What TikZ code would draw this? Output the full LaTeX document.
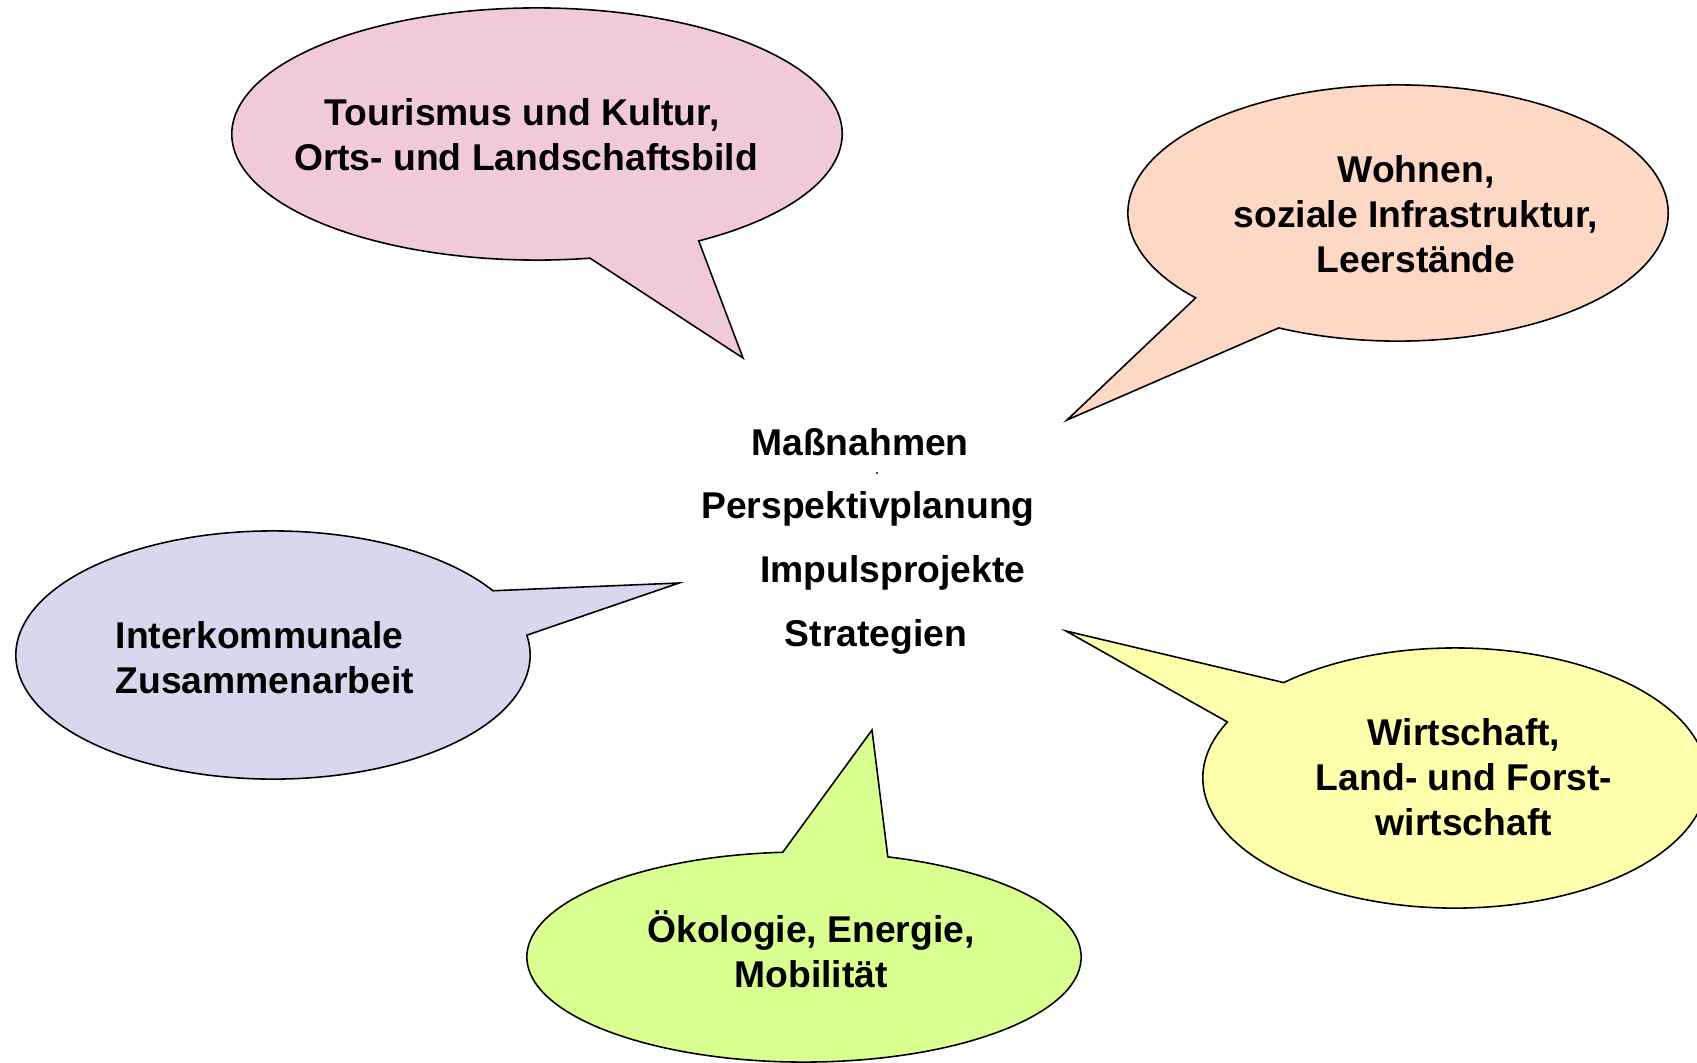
\documentclass[tikz,border=0pt]{standalone}
\usepackage{fontspec}
\setmainfont{Liberation Sans}
\usetikzlibrary{calc}

\definecolor{tourc}{RGB}{240,201,220}
\definecolor{wohnc}{RGB}{253,216,196}
\definecolor{interc}{RGB}{214,216,238}
\definecolor{wirtc}{RGB}{255,255,172}
\definecolor{oekoc}{RGB}{217,255,145}

\begin{document}
\begin{tikzpicture}[x = .01cm, y = .01cm,
	bubble/.style = {draw = black, line width = .45pt},
	txt/.style = {font = \bfseries\fontsize{10.6}{12.8}\selectfont, align = center, inner sep = 0pt}]
		\useasboundingbox (0,0) rectangle (1697,1062);
		\clip (0,0) rectangle (1697,1062);
		
		% Tourismus
		\coordinate (cT) at (537,928);
		\coordinate (tipT) at (743,704);
		\draw [bubble, fill = tourc] (tipT) -- ($(cT)+(-58:3.05cm and 1.26cm)$)
			arc [start angle = -58, end angle = 280, x radius = 3.05cm, y radius = 1.26cm] -- cycle;
		\node (tour) at (526,927) [txt] {Tourismus und Kultur,\hspace*{.08cm}\\Orts- und Landschaftsbild};
		
		% Wohnen
		\coordinate (cW) at (1398,849);
		\coordinate (tipW) at (1067,642);
		\draw [bubble, fill = wohnc] (tipW) -- ($(cW)+(243.8:2.70cm and 1.28cm)$)
			arc [start angle = 243.8, end angle = 581.5, x radius = 2.70cm, y radius = 1.28cm] -- cycle;
		\node (wohn) at (1416,848) [txt] {Wohnen,\\soziale Infrastruktur,\\Leerstände};
		
		% Interkommunal
		\coordinate (cI) at (273,407);
		\coordinate (tipI) at (679,479);
		\draw [bubble, fill = interc] (tipI) -- ($(cI)+(31.2:2.57cm and 1.24cm)$)
			arc [start angle = 31.2, end angle = 369.2, x radius = 2.57cm, y radius = 1.24cm] -- cycle;
		\node (inter) at (115,404) [txt, anchor = west, align = left] {Interkommunale\\Zusammenarbeit};
		
		% Wirtschaft
		\coordinate (cF) at (1455,284);
		\coordinate (tipF) at (1066,431);
		\draw [bubble, fill = wirtc] (tipF) -- ($(cF)+(154.5:2.52cm and 1.30cm)$)
			arc [start angle = 154.5, end angle = 492.8, x radius = 2.52cm, y radius = 1.30cm] -- cycle;
		\node (wirt) at (1464,285) [txt] {Wirtschaft,\\Land- und Forst-\\wirtschaft};
		
		% Oekologie
		\coordinate (cO) at (804,105);
		\coordinate (tipO) at (872,332);
		\draw [bubble, fill = oekoc] (tipO) -- ($(cO)+(94.4:2.77cm and 1.05cm)$)
			arc [start angle = 94.4, end angle = 432.4, x radius = 2.77cm, y radius = 1.05cm] -- cycle;
		\node (oeko) at (811,113) [txt] {Ökologie, Energie,\\Mobilität};
		
		% Mitte
		\node (mass) at (860,620) [txt] {Maßnahmen};
		\fill (877,589) circle [radius = .012cm];
		\node (persp) at (868,553) [txt] {Perspektivplanung};
		\node (impuls) at (893,489) [txt] {Impulsprojekte};
		\node (strat) at (876,425) [txt] {Strategien};
\end{tikzpicture}
\end{document}
